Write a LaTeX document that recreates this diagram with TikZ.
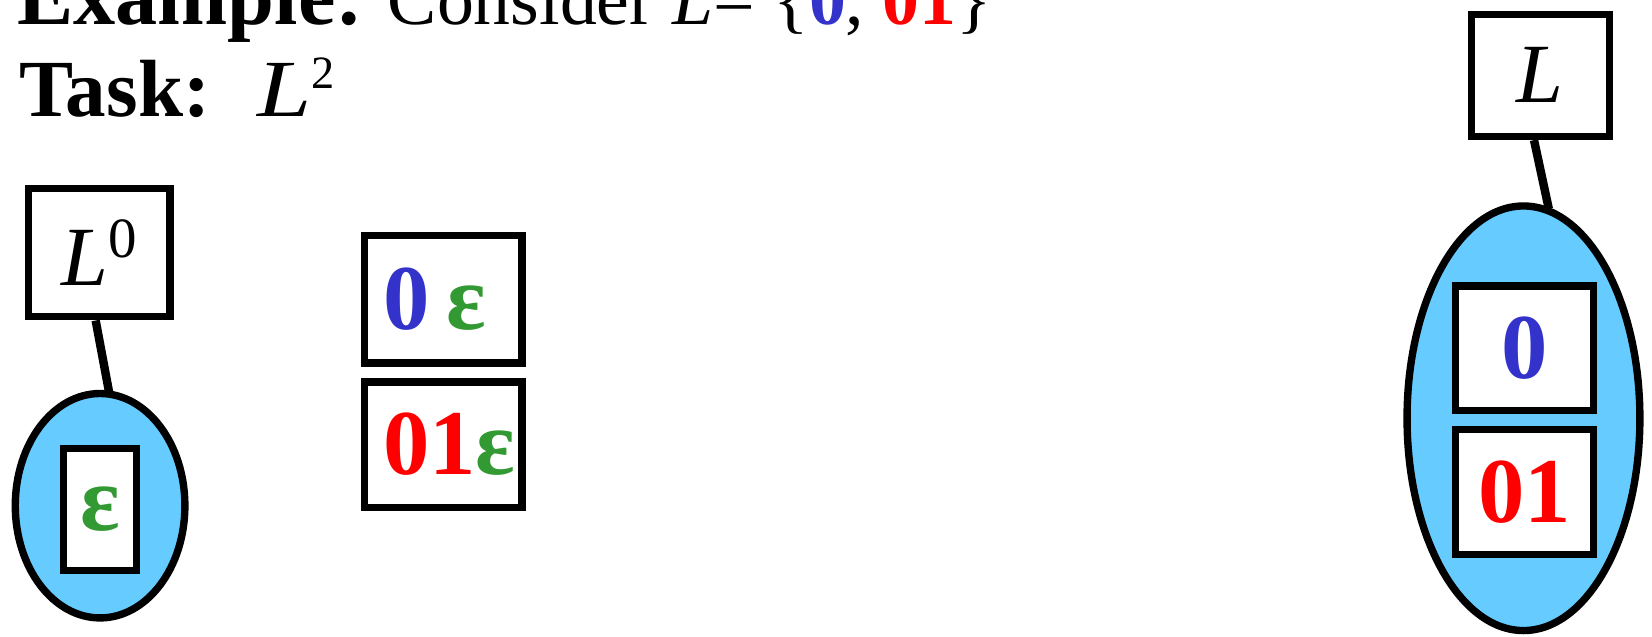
\documentclass[tikz,border=0pt]{standalone}
\usepackage{fontspec}
\setmainfont{Liberation Serif}
\usetikzlibrary{shapes.geometric}
\definecolor{dblue}{RGB}{51,51,204}
\definecolor{dred}{RGB}{255,0,0}
\definecolor{dgreen}{RGB}{51,153,51}
\definecolor{sky}{RGB}{102,204,255}
\begin{document}
\begin{tikzpicture}[x=1pt,y=-1pt,
  box/.style={draw,line width=7pt,fill=white,inner sep=0pt,minimum width=131pt,minimum height=118pt},
  setell/.style={draw,ellipse,line width=7pt,fill=sky,inner sep=0pt},
  conn/.style={line width=8pt},
  lab/.style={font=\fontsize{80}{80}\selectfont},
  big/.style={font=\fontsize{88}{88}\selectfont\bfseries},
  title/.style={anchor=base west,inner sep=0pt,font=\fontsize{77}{80}\selectfont}
]
\useasboundingbox (0,0) rectangle (1568,604);
% title
\node[title,font=\fontsize{80}{80}\selectfont\bfseries] (t1a) at (16,23) {Example:};
\node[title,font=\fontsize{70}{72}\selectfont] (t1b) at (368,23) {Consider \textit{L}= \{\textcolor{dblue}{\textbf{0}}, \textcolor{dred}{\textbf{01}}\}};
\node[title] (t2) at (18,111) {\textbf{Task:}\hspace{45pt}\scalebox{1.2}[1]{\textit{L}}\raisebox{27pt}{\fontsize{44}{44}\selectfont 2}};
% left: L^0
\node[setell,minimum width=161pt,minimum height=213pt] (e0) at (95,480) {};
\node[box,minimum width=69pt,minimum height=116pt] (eps) at (95,483.5) {};
\node[big,text=dgreen] at (eps) {ε};
\node[box,minimum width=134pt,minimum height=122pt,lab] (l0) at (94.3,239.7) {\textit{L}\raisebox{0.33em}{\fontsize{54}{54}\selectfont 0}};
\draw[conn] ([xshift=-3.5pt]l0.south) -- ([xshift=8.5pt,yshift=-2pt]e0.north);
% middle
\node[box,minimum width=149.5pt,minimum height=121pt] (m1) at (420.7,284) {};
\node[big,anchor=west,inner sep=0pt] at ([xshift=21pt]m1.west) {\textcolor{dblue}{0}\hspace{0.18em}\textcolor{dgreen}{ε}};
\node[box,minimum width=149.5pt,minimum height=119pt] (m2) at (420.7,422) {};
\node[big,anchor=west,inner sep=0pt] at ([xshift=21pt]m2.west) {\textcolor{dred}{01}\textcolor{dgreen}{ε}};
% right: L
\node[setell,minimum width=221pt,minimum height=403pt] (e1) at (1446,397) {};
\node[box,minimum width=131pt,minimum height=118pt,big,text=dblue] (r0) at (1447,330.5) {0};
\node[box,minimum width=131pt,minimum height=119pt,big,text=dred] (r01) at (1447,467) {01};
\node[box,minimum width=131pt,minimum height=116pt,lab] (lb) at (1462,71.5) {\textit{L}};
\draw[conn] ([xshift=-6pt]lb.south) -- ([xshift=24pt,yshift=-6pt]e1.north);
\end{tikzpicture}
\end{document}
